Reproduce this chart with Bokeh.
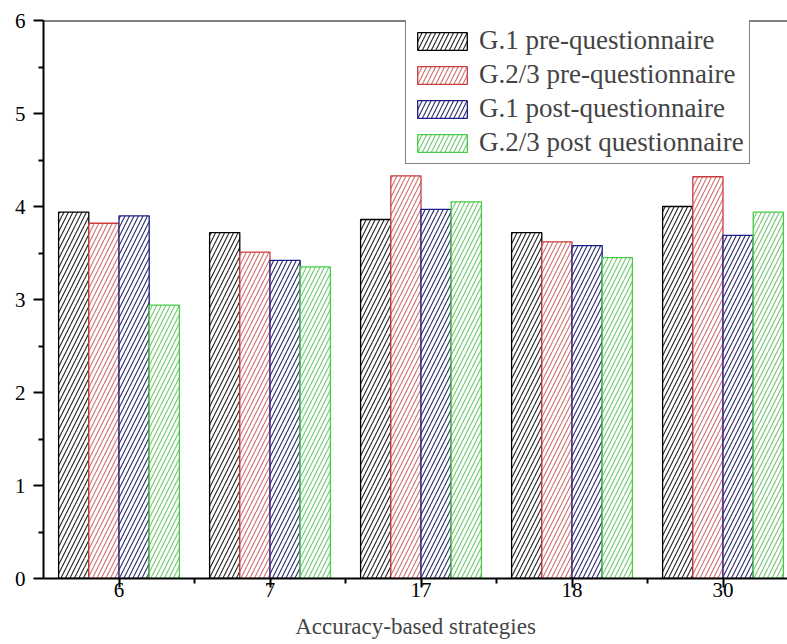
from bokeh.plotting import figure
from bokeh.models import (ColumnDataSource, Range1d, FixedTicker, Span, Legend,
                          LegendItem)
from bokeh.embed import file_html
from bokeh.resources import INLINE

# Accuracy-based strategy numbers and mean scores per group
strategies = ["6", "7", "17", "18", "30"]
g1_pre = [3.94, 3.72, 3.86, 3.72, 4.00]
g23_pre = [3.82, 3.51, 4.33, 3.62, 4.32]
g1_post = [3.90, 3.42, 3.97, 3.58, 3.69]
g23_post = [2.94, 3.35, 4.05, 3.45, 3.94]

series_names = ["G.1 pre-questionnaire", "G.2/3 pre-questionnaire",
                "G.1 post-questionnaire", "G.2/3 post questionnaire"]
series_values = [g1_pre, g23_pre, g1_post, g23_post]
line_colors = ["#000000", "#c83c3c", "#1c1c8a", "#44cc44"]
hatch_colors = ["#222222", "#d07070", "#2a2a66", "#70c870"]
offsets = [-0.3, -0.1, 0.1, 0.3]
bar_w = 0.2

FONT = "Liberation Serif"

centers = [i + 0.5 for i in range(len(strategies))]

p = figure(width=787, height=644, output_backend="svg", toolbar_location=None,
           x_range=Range1d(0, 744 / 151.0), y_range=Range1d(0, 6),
           min_border_left=43, min_border_right=0, min_border_top=20,
           min_border_bottom=66)
p.outline_line_color = None
p.xgrid.grid_line_color = None
p.ygrid.grid_line_color = None
p.background_fill_color = "white"
p.border_fill_color = "white"

renderers = []
for name, vals, lc, hc, off in zip(series_names, series_values, line_colors,
                                    hatch_colors, offsets):
    src = ColumnDataSource(dict(x=[c + off for c in centers], top=vals))
    r = p.vbar(x="x", top="top", width=bar_w, source=src,
               fill_color="white", line_color=lc, line_width=1.3,
               hatch_pattern="/", hatch_color=hc, hatch_scale=9,
               hatch_weight=1.1)
    renderers.append((name, r))

# top frame line
p.add_layout(Span(location=6, dimension="width", line_color="black",
                  line_width=2))

# y axis
ya = p.yaxis[0]
ya.ticker = FixedTicker(ticks=[0, 1, 2, 3, 4, 5, 6],
                        minor_ticks=[0.5, 1.5, 2.5, 3.5, 4.5, 5.5])
ya.axis_line_width = 2
ya.major_tick_line_width = 2
ya.minor_tick_line_width = 2
ya.major_tick_out = 10
ya.major_tick_in = 0
ya.minor_tick_out = 5
ya.minor_tick_in = 0
ya.major_label_standoff = 8
ya.major_label_text_font = FONT
ya.major_label_text_font_size = "21px"
ya.major_label_text_color = "black"

# x axis
xa = p.xaxis[0]
xa.ticker = FixedTicker(ticks=centers, minor_ticks=[1, 2, 3, 4])
xa.major_label_overrides = {c: s for c, s in zip(centers, strategies)}
xa.axis_line_width = 2
xa.major_tick_line_width = 2
xa.minor_tick_line_width = 2
xa.major_tick_out = 9
xa.major_tick_in = 0
xa.minor_tick_out = 5
xa.minor_tick_in = 0
xa.major_label_standoff = -5
xa.major_label_text_font = FONT
xa.major_label_text_font_size = "21px"
xa.major_label_text_color = "black"
xa.axis_label = "Accuracy-based strategies"
xa.axis_label_text_font = FONT
xa.axis_label_text_font_size = "23px"
xa.axis_label_text_font_style = "normal"
xa.axis_label_standoff = 14

legend = Legend(items=[LegendItem(label=n, renderers=[r]) for n, r in renderers],
                location=(362, 414), orientation="vertical")
legend.label_text_font = FONT
legend.label_text_font_size = "27px"
legend.glyph_width = 62
legend.glyph_height = 22
legend.label_height = 22
legend.spacing = 3
legend.padding = 5
legend.margin = 0
legend.label_standoff = 6
legend.border_line_color = "black"
legend.border_line_width = 1
legend.background_fill_alpha = 1
p.add_layout(legend, "center")

open("out.html", "w").write(file_html(p, INLINE))
